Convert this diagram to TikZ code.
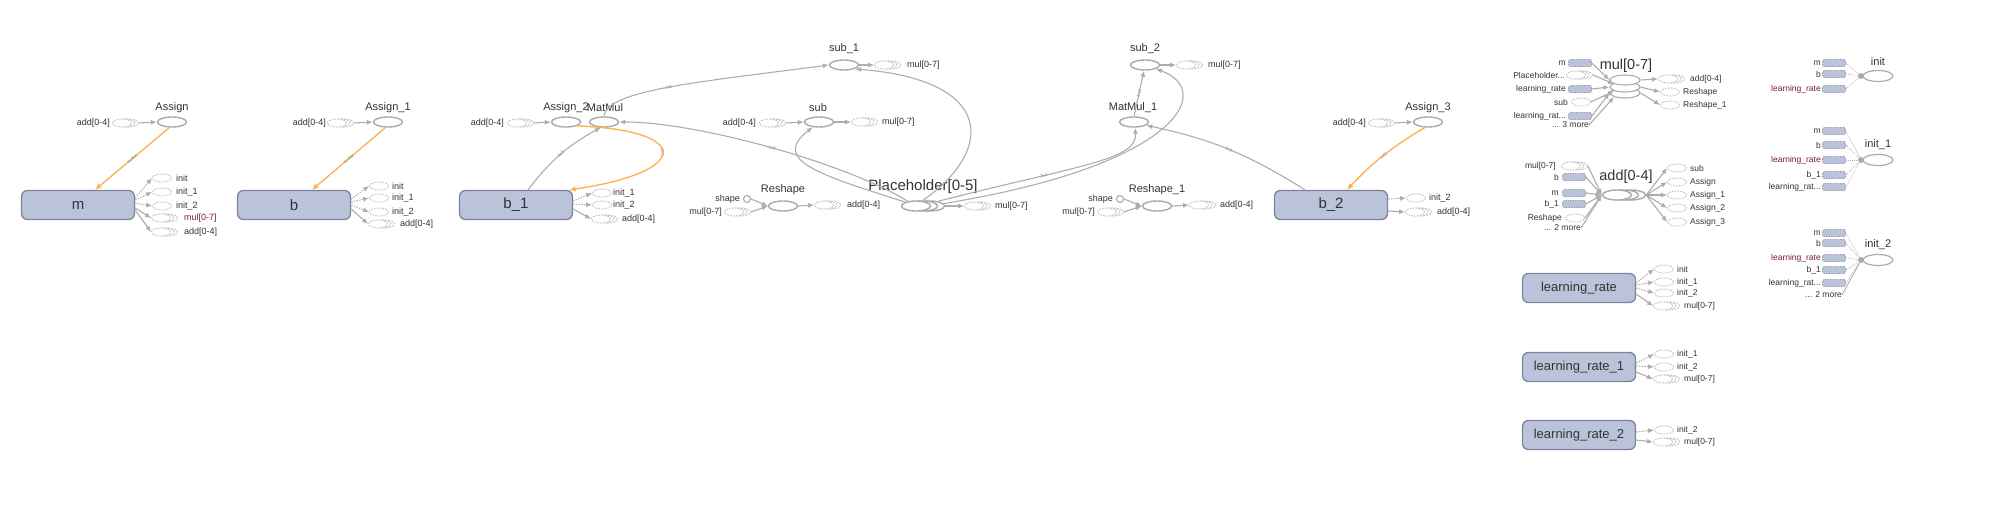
\documentclass[tikz,border=0pt]{standalone}
\usepackage{fontspec}
\setmainfont{Liberation Sans}
\usetikzlibrary{shapes.geometric,arrows.meta}
\definecolor{txt}{HTML}{333333}
\definecolor{dred}{HTML}{7A1F2B}
\definecolor{opgray}{HTML}{ABABAB}
\definecolor{edgegray}{HTML}{ADADAD}
\definecolor{ghgray}{HTML}{BDBDBD}
\definecolor{boxfill}{HTML}{BAC3DA}
\definecolor{boxborder}{HTML}{7D8698}
\definecolor{refor}{HTML}{FBB24B}
\definecolor{elabc}{HTML}{8C8C8C}
\newcommand\gser[3]{\node[ghost] (#1c) at (#2+7,#3) {};\node[ghost] (#1b) at (#2+3.5,#3) {};\node[ghost] (#1) at (#2,#3) {};}
\newcommand\oser[3]{\node[op] (#1c) at (#2+14,#3) {};\node[op] (#1b) at (#2+7,#3) {};\node[op] (#1) at (#2,#3) {};}
\tikzset{
 lbl/.style={font=\fontsize{11}{11}\selectfont, text=txt, inner sep=0},
 sml/.style={font=\fontsize{9}{9}\selectfont, text=txt, inner sep=0},
 xs/.style={font=\fontsize{8.5}{8.5}\selectfont, text=txt, inner sep=0},
 big/.style={font=\fontsize{14.5}{14.5}\selectfont, text=txt, inner sep=0},
 op/.style={ellipse, draw=opgray, line width=1.4pt, fill=white, minimum width=29pt, minimum height=10pt, inner sep=0},
 ghost/.style={ellipse, draw=ghgray, dash pattern=on 1.8pt off 1.1pt, line width=0.8pt, fill=white, minimum width=19pt, minimum height=8pt, inner sep=0},
 var/.style={rectangle, rounded corners=6pt, draw=boxborder, fill=boxfill, line width=1.3pt, minimum width=113pt, minimum height=29pt, inner sep=0, font=\fontsize{15}{15}\selectfont, text=txt},
 lrvar/.style={var, font=\fontsize{13}{13}\selectfont},
 vmini/.style={rectangle, rounded corners=1.5pt, draw=boxborder!80, dash pattern=on 1.5pt off 1pt, line width=0.7pt, fill=boxfill, minimum width=23pt, minimum height=7pt, inner sep=0},
 shp/.style={circle, draw=opgray, line width=1.1pt, fill=white, minimum size=7pt, inner sep=0},
 cdot/.style={circle, fill=opgray, minimum size=6pt, inner sep=0},
 edge/.style={draw=edgegray, line width=1.1pt, -{Latex[length=6pt,width=5pt]}},
 ctrl/.style={edge, line width=1pt, dash pattern=on 1.5pt off 1.2pt},
 cline/.style={draw=edgegray, line width=0.6pt, dash pattern=on 1pt off 1pt},
 ref/.style={draw=refor, line width=1.3pt, -{Latex[length=6.5pt,width=5.5pt]}},
 elab/.style={font=\fontsize{4.5}{4.5}\selectfont, text=elabc, sloped, inner sep=0.3pt},
}
\begin{document}
\begin{tikzpicture}[x=1pt,y=-1pt]
\useasboundingbox (0,0) rectangle (1998,530);
\fill[white] (0,0) rectangle (1998,530);

% ================= m
\node[lbl] (tAs0) at (172,108) {Assign};
\node[op] (As0) at (172,122) {};
\gser{iAs0}{122}{123}
\node[sml,anchor=east] (tiAs0) at (110,123) {add[0-4]};
\draw[edge] (iAs0c.east) -- (As0.west);
\node[var] (m) at (78,205) {m};
\draw[ref] (As0.-115) -- node[elab]{scalar} ([xshift=17pt]m.north);
\node[ghost] (mo1) at (162,178) {}; \node[sml,anchor=west] (tmo1) at (176,178) {init};
\node[ghost] (mo2) at (162,192) {}; \node[sml,anchor=west] (tmo2) at (176,192) {init\_1};
\node[ghost] (mo3) at (162,206) {}; \node[sml,anchor=west] (tmo3) at (176,206) {init\_2};
\gser{mo4}{161}{218} \node[sml,anchor=west,text=dred] (tmo4) at (184,218) {mul[0-7]};
\gser{mo5}{161}{232} \node[sml,anchor=west] (tmo5) at (184,232) {add[0-4]};
\draw[ctrl] ([yshift=7pt]m.east) -- (mo1.west);
\draw[ctrl] ([yshift=5pt]m.east) -- (mo2.west);
\draw[ctrl] ([yshift=2pt]m.east) -- (mo3.west);
\draw[edge] ([yshift=-3pt]m.east) -- (mo4.west);
\draw[edge] ([yshift=-5pt]m.east) -- (mo5.west);

% ================= b
\node[lbl] (tAs1) at (388,108) {Assign\_1};
\node[op] (As1) at (388,122) {};
\gser{iAs1}{337}{123}
\node[sml,anchor=east] (tiAs1) at (326,123) {add[0-4]};
\draw[edge] (iAs1c.east) -- (As1.west);
\node[var] (b) at (294,205) {b};
\draw[ref] (As1.-115) -- node[elab]{scalar} ([xshift=18pt]b.north);
\node[ghost] (bo1) at (379,186) {}; \node[sml,anchor=west] (tbo1) at (392,186) {init};
\node[ghost] (bo2) at (379,198) {}; \node[sml,anchor=west] (tbo2) at (392,198) {init\_1};
\node[ghost] (bo3) at (379,212) {}; \node[sml,anchor=west] (tbo3) at (392,212) {init\_2};
\gser{bo4}{378}{224} \node[sml,anchor=west] (tbo4) at (400,224) {add[0-4]};
\draw[ctrl] ([yshift=6pt]b.east) -- (bo1.west);
\draw[ctrl] ([yshift=3pt]b.east) -- (bo2.west);
\draw[ctrl] ([yshift=0pt]b.east) -- (bo3.west);
\draw[edge] ([yshift=-4pt]b.east) -- (bo4.west);

% ================= b_1
\node[lbl] (tAs2) at (566,108) {Assign\_2};
\node[op] (As2) at (566,122) {};
\node[lbl] (tMM0) at (605,108) {MatMul};
\node[op] (MM0) at (604,122) {};
\gser{iAs2}{517}{123}
\node[sml,anchor=east] (tiAs2) at (504,123) {add[0-4]};
\draw[edge] (iAs2c.east) -- (As2.west);
\node[var] (b1) at (516,205) {b\_1};
\draw[edge] ([xshift=12pt]b1.north) to[bend left=12] node[elab]{1x3} (MM0.-120);
\draw[ref] (As2.-20) .. controls (692,130) and (692,172) .. node[elab]{1x3} ([xshift=-4pt]b1.north east);
\node[ghost] (b1o1) at (602,193) {}; \node[sml,anchor=west] (tb1o1) at (613,193) {init\_1};
\node[ghost] (b1o2) at (602,205) {}; \node[sml,anchor=west] (tb1o2) at (613,205) {init\_2};
\gser{b1o3}{601}{219} \node[sml,anchor=west] (tb1o3) at (622,219) {add[0-4]};
\draw[ctrl] ([yshift=4pt]b1.east) -- (b1o1.west);
\draw[ctrl] ([yshift=1pt]b1.east) -- (b1o2.west);
\draw[edge] ([yshift=-4pt]b1.east) -- (b1o3.west);

% ================= sub, sub_1
\node[lbl] (tsub0) at (818,108) {sub};
\node[op] (sub0) at (819,122) {};
\gser{isub}{769}{123}
\node[sml,anchor=east] (tisub) at (756,123) {add[0-4]};
\draw[edge] (isubc.east) -- (sub0.west);
\gser{osub}{861}{122}
\node[sml,anchor=west] (tosub) at (882,122) {mul[0-7]};
\draw[edge] (sub0.east) -- (osub.west);

\node[lbl] (tsub1) at (844,49) {sub\_1};
\node[op] (sub1) at (844,65) {};
\gser{osub1}{884}{65}
\node[sml,anchor=west] (tosub1) at (907,65) {mul[0-7]};
\draw[edge] (sub1.east) -- (osub1.west);
\draw[edge] (MM0.north) .. controls (606,90) and (700,82) .. node[elab]{1x1} (sub1.west);

% ================= Reshape
\node[lbl] (trs0) at (783,190) {Reshape};
\node[op] (rs0) at (783,206) {};
\node[shp] (shp0) at (747,199) {};
\node[sml,anchor=east] (tshp0) at (740,199) {shape};
\gser{irs0}{734}{212}
\node[sml,anchor=east] (tirs0) at (722,212) {mul[0-7]};
\draw[edge] (shp0.east) -- (rs0.west);
\draw[edge] (irs0c.east) -- (rs0.west);
\gser{ors0}{824}{205}
\node[sml,anchor=west] (tors0) at (847,205) {add[0-4]};
\draw[edge] (rs0.east) -- (ors0.west);

% ================= Placeholder
\node[font=\fontsize{15}{15}\selectfont, text=txt, inner sep=0] (tPh) at (923,187) {Placeholder[0-5]};
\oser{Ph}{916}{206}
\gser{oPh}{974}{206}
\node[sml,anchor=west] (toPh) at (995,206) {mul[0-7]};
\draw[edge] (Phc.east) -- (oPh.west);
\draw[edge] (Ph.150) .. controls (850,165) and (700,122) .. node[elab]{1x6} (MM0.east);
\draw[edge] (Ph.160) .. controls (820,175) and (770,160) .. (sub0.-140);
\draw[edge] (Phb.north) .. controls (995,150) and (995,80) .. (sub1.-20);

% ================= MatMul_1, sub_2
\node[lbl] (tMM1) at (1133,108) {MatMul\_1};
\node[op] (MM1) at (1134,122) {};
\node[lbl] (tsub2) at (1145,49) {sub\_2};
\node[op] (sub2) at (1145,65) {};
\gser{osub2}{1186}{65}
\node[sml,anchor=west] (tosub2) at (1208,65) {mul[0-7]};
\draw[edge] (sub2.east) -- (osub2.west);
\draw[edge] (MM1.north) -- node[elab]{1x1} (sub2.-100);
\draw[edge] (Phc.30) .. controls (1080,165) and (1138,160) .. node[elab,pos=0.3]{3x1} (MM1.-80);
\draw[edge] (Phc.10) .. controls (1180,165) and (1215,90) .. (sub2.-20);

% ================= Reshape_1
\node[lbl] (trs1) at (1157,190) {Reshape\_1};
\node[op] (rs1) at (1157,206) {};
\node[shp] (shp1) at (1120,199) {};
\node[sml,anchor=east] (tshp1) at (1113,199) {shape};
\gser{irs1}{1107}{212}
\node[sml,anchor=east] (tirs1) at (1095,212) {mul[0-7]};
\draw[edge] (shp1.east) -- (rs1.west);
\draw[edge] (irs1c.east) -- (rs1.west);
\gser{ors1}{1199}{205}
\node[sml,anchor=west] (tors1) at (1220,205) {add[0-4]};
\draw[edge] (rs1.east) -- (ors1.west);

% ================= b_2
\node[lbl] (tAs3) at (1428,108) {Assign\_3};
\node[op] (As3) at (1428,122) {};
\gser{iAs3}{1378}{123}
\node[sml,anchor=east] (tiAs3) at (1366,123) {add[0-4]};
\draw[edge] (iAs3c.east) -- (As3.west);
\node[var] (b2) at (1331,205) {b\_2};
\draw[edge] ([xshift=-26pt]b2.north) to[bend right=10] node[elab]{2x1} (MM1.-15);
\draw[ref] (As3.-120) to[bend right=8] node[elab]{1x3} ([xshift=16pt]b2.north);
\node[ghost] (b2o1) at (1416,198) {}; \node[sml,anchor=west] (tb2o1) at (1429,198) {init\_2};
\gser{b2o2}{1415}{212} \node[sml,anchor=west] (tb2o2) at (1437,212) {add[0-4]};
\draw[ctrl] ([yshift=6pt]b2.east) -- (b2o1.west);
\draw[edge] ([yshift=-6pt]b2.east) -- (b2o2.west);

% ================= mul[0-7] summary
\node[big] (tmulS) at (1626,66) {mul[0-7]};
\node[op, line width=1.1pt, minimum width=30pt] (mulS3) at (1625,93) {};
\node[op, line width=1.1pt, minimum width=30pt] (mulS2) at (1625,87) {};
\node[op, line width=1.1pt, minimum width=30pt] (mulS) at (1625,80) {};
\node[vmini] (mS1) at (1580,63) {}; \node[xs,anchor=east] (tmS1) at (1566,63) {m};
\gser{mS2}{1576}{75} \node[xs,anchor=east] (tmS2) at (1565,75) {Placeholder...};
\node[vmini] (mS3) at (1580,89) {}; \node[xs,anchor=east] (tmS3) at (1566,89) {learning\_rate};
\node[ghost] (mS4) at (1581,102) {}; \node[xs,anchor=east] (tmS4) at (1568,102) {sub};
\node[vmini] (mS5) at (1580,116) {}; \node[xs,anchor=east] (tmS5) at (1566,116) {learning\_rat...};
\node[xs,anchor=east] (mS6) at (1589,125) {... 3 more};
\draw[edge] (mS1.east) -- (mulS.west);
\draw[edge] (mS2c.east) -- (mulS.200);
\draw[edge] (mS3.east) -- (mulS2.west);
\draw[edge] (mS4.east) -- (mulS2.200);
\draw[edge] (mS5.east) -- (mulS3.west);
\draw[edge] (mS6.east) -- (mulS3.200);
\gser{mO1}{1668}{79} \node[xs,anchor=west] (tmO1) at (1690,79) {add[0-4]};
\node[ghost] (mO2) at (1670,92) {}; \node[xs,anchor=west] (tmO2) at (1683,92) {Reshape};
\node[ghost] (mO3) at (1670,105) {}; \node[xs,anchor=west] (tmO3) at (1683,105) {Reshape\_1};
\draw[edge] (mulS.east) -- (mO1.west);
\draw[edge] (mulS2.east) -- (mO2.west);
\draw[edge] (mulS3.east) -- (mO3.west);

% ================= add[0-4] summary
\node[big] (taddS) at (1626,177) {add[0-4]};
\oser{addS}{1617}{195}
\gser{aS1}{1571}{166} \node[xs,anchor=east] (taS1) at (1556,166) {mul[0-7]};
\node[vmini] (aS2) at (1574,177) {}; \node[xs,anchor=east] (taS2) at (1559,177) {b};
\node[vmini] (aS3) at (1574,193) {}; \node[xs,anchor=east] (taS3) at (1559,193) {m};
\node[vmini] (aS4) at (1574,204) {}; \node[xs,anchor=east] (taS4) at (1559,204) {b\_1};
\node[ghost] (aS5) at (1575,218) {}; \node[xs,anchor=east] (taS5) at (1562,218) {Reshape};
\node[xs,anchor=east] (aS6) at (1581,228) {... 2 more};
\foreach \s in {aS1c,aS2,aS3,aS4,aS5,aS6}{\draw[edge] (\s.east) -- (addS.west);}
\node[ghost] (aO1) at (1677,168) {}; \node[xs,anchor=west] (taO1) at (1690,168) {sub};
\node[ghost] (aO2) at (1677,182) {}; \node[xs,anchor=west] (taO2) at (1690,182) {Assign};
\node[ghost] (aO3) at (1677,195) {}; \node[xs,anchor=west] (taO3) at (1690,195) {Assign\_1};
\node[ghost] (aO4) at (1677,208) {}; \node[xs,anchor=west] (taO4) at (1690,208) {Assign\_2};
\node[ghost] (aO5) at (1677,222) {}; \node[xs,anchor=west] (taO5) at (1690,222) {Assign\_3};
\foreach \s in {aO1,aO2,aO3,aO4,aO5}{\draw[edge] (addSc.east) -- (\s.west);}

% ================= init summaries
\node[lbl] (tini0) at (1878,62) {init};
\node[op, line width=1.2pt, minimum width=30pt, minimum height=11pt] (ini0) at (1878,76) {};
\node[cdot] (ini0d) at (1861,76) {};
\node[vmini] (i0a) at (1834,63) {}; \node[xs,anchor=east] (ti0a) at (1821,63) {m};
\node[vmini] (i0b) at (1834,74) {}; \node[xs,anchor=east] (ti0b) at (1821,74) {b};
\node[vmini] (i0c) at (1834,89) {}; \node[xs,anchor=east,text=dred] (ti0c) at (1821,89) {learning\_rate};
\foreach \s in {i0a,i0b,i0c}{\draw[cline] (\s.east) -- (ini0d);}

\node[lbl] (tini1) at (1878,145) {init\_1};
\node[op, line width=1.2pt, minimum width=30pt, minimum height=11pt] (ini1) at (1878,160) {};
\node[cdot] (ini1d) at (1861,160) {};
\node[vmini] (i1a) at (1834,131) {}; \node[xs,anchor=east] (ti1a) at (1821,131) {m};
\node[vmini] (i1b) at (1834,145) {}; \node[xs,anchor=east] (ti1b) at (1821,145) {b};
\node[vmini] (i1c) at (1834,160) {}; \node[xs,anchor=east,text=dred] (ti1c) at (1821,160) {learning\_rate};
\node[vmini] (i1d) at (1834,175) {}; \node[xs,anchor=east] (ti1d) at (1821,175) {b\_1};
\node[vmini] (i1e) at (1834,187) {}; \node[xs,anchor=east] (ti1e) at (1821,187) {learning\_rat...};
\foreach \s in {i1a,i1b,i1c,i1d,i1e}{\draw[cline] (\s.east) -- (ini1d);}

\node[lbl] (tini2) at (1878,245) {init\_2};
\node[op, line width=1.2pt, minimum width=30pt, minimum height=11pt] (ini2) at (1878,260) {};
\node[cdot] (ini2d) at (1861,260) {};
\node[vmini] (i2a) at (1834,233) {}; \node[xs,anchor=east] (ti2a) at (1821,233) {m};
\node[vmini] (i2b) at (1834,243) {}; \node[xs,anchor=east] (ti2b) at (1821,243) {b};
\node[vmini] (i2c) at (1834,258) {}; \node[xs,anchor=east,text=dred] (ti2c) at (1821,258) {learning\_rate};
\node[vmini] (i2d) at (1834,270) {}; \node[xs,anchor=east] (ti2d) at (1821,270) {b\_1};
\node[vmini] (i2e) at (1834,283) {}; \node[xs,anchor=east] (ti2e) at (1821,283) {learning\_rat...};
\node[xs,anchor=east] (i2f) at (1842,295) {... 2 more};
\foreach \s in {i2a,i2b,i2c,i2d,i2e}{\draw[cline] (\s.east) -- (ini2d);}
\draw[draw=edgegray, line width=0.9pt] (i2f.east) -- (ini2d);

% ================= learning rates
\node[lrvar] (lr0) at (1579,288) {learning\_rate};
\node[ghost] (lr0o1) at (1664,269) {}; \node[xs,anchor=west] (tlr0o1) at (1677,269) {init};
\node[ghost] (lr0o2) at (1664,282) {}; \node[xs,anchor=west] (tlr0o2) at (1677,282) {init\_1};
\node[ghost] (lr0o3) at (1664,293) {}; \node[xs,anchor=west] (tlr0o3) at (1677,293) {init\_2};
\gser{lr0o4}{1663}{306} \node[xs,anchor=west] (tlr0o4) at (1684,306) {mul[0-7]};
\draw[ctrl] ([yshift=5pt]lr0.east) -- (lr0o1.west);
\draw[ctrl] ([yshift=3pt]lr0.east) -- (lr0o2.west);
\draw[ctrl] ([yshift=0pt]lr0.east) -- (lr0o3.west);
\draw[edge] ([yshift=-6pt]lr0.east) -- (lr0o4.west);

\node[lrvar] (lr1) at (1579,367) {learning\_rate\_1};
\node[ghost] (lr1o1) at (1664,354) {}; \node[xs,anchor=west] (tlr1o1) at (1677,354) {init\_1};
\node[ghost] (lr1o2) at (1664,367) {}; \node[xs,anchor=west] (tlr1o2) at (1677,367) {init\_2};
\gser{lr1o3}{1663}{379} \node[xs,anchor=west] (tlr1o3) at (1684,379) {mul[0-7]};
\draw[ctrl] ([yshift=4pt]lr1.east) -- (lr1o1.west);
\draw[ctrl] ([yshift=1pt]lr1.east) -- (lr1o2.west);
\draw[edge] ([yshift=-5pt]lr1.east) -- (lr1o3.west);

\node[lrvar] (lr2) at (1579,435) {learning\_rate\_2};
\node[ghost] (lr2o1) at (1664,430) {}; \node[xs,anchor=west] (tlr2o1) at (1677,430) {init\_2};
\gser{lr2o2}{1663}{442} \node[xs,anchor=west] (tlr2o2) at (1684,442) {mul[0-7]};
\draw[ctrl] ([yshift=3pt]lr2.east) -- (lr2o1.west);
\draw[edge] ([yshift=-5pt]lr2.east) -- (lr2o2.west);
\end{tikzpicture}
\end{document}
